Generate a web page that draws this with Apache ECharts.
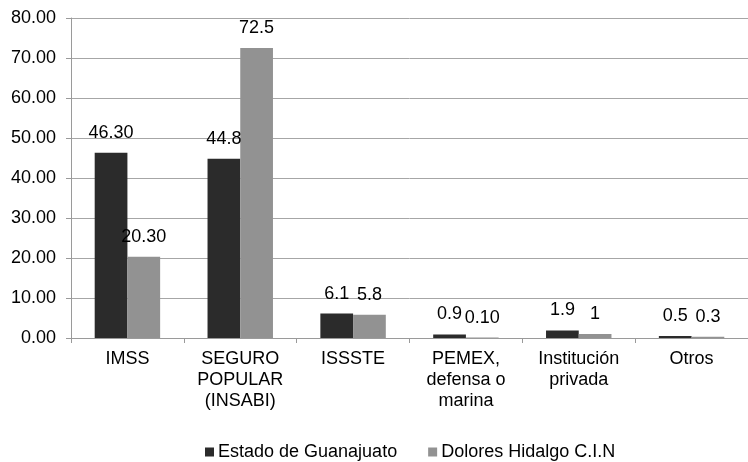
<!DOCTYPE html>
<html>
<head>
<meta charset="utf-8">
<script src="https://cdn.jsdelivr.net/npm/echarts@6/dist/echarts.min.js"></script>
<style>html,body{margin:0;padding:0;background:#fff}#c{width:748px;height:462px}</style>
</head>
<body>
<div id="c"></div>
<script>
const categories = ['IMSS', 'SEGURO\nPOPULAR\n(INSABI)', 'ISSSTE', 'PEMEX,\ndefensa o\nmarina', 'Institución\nprivada', 'Otros'];
const seriesNames = ['Estado de Guanajuato', 'Dolores Hidalgo C.I.N'];
const guanajuato = [46.3, 44.8, 6.1, 0.9, 1.9, 0.5];
const dolores = [20.3, 72.5, 5.8, 0.1, 1, 0.3];
const guanajuatoLabels = ['46.30', '44.8', '6.1', '0.9', '1.9', '0.5'];
const doloresLabels = ['20.30', '72.5', '5.8', '0.10', '1', '0.3'];

const FONT = 'Liberation Sans, Arial, sans-serif';
const FS = 18;
const chart = echarts.init(document.getElementById('c'), null, {renderer: 'canvas'});
function mkLabel(arr) {
  return {
    show: true, position: 'top', distance: 11,
    fontFamily: FONT, fontSize: FS, color: '#000',
    formatter: p => arr[p.dataIndex]
  };
}
chart.setOption({
  animation: false,
  backgroundColor: '#fff',
  grid: {left: 71, top: 18, bottom: 124, width: 686},
  legend: {
    top: 438, left: 200,
    itemWidth: 9, itemHeight: 9, itemGap: 31,
    icon: 'rect',
    textStyle: {fontFamily: FONT, fontSize: FS, color: '#000', padding: [0,0,0,-1]},
    data: seriesNames
  },
  xAxis: {
    type: 'category', data: categories,
    axisLine: {lineStyle: {color: '#9a9a9a', width: 1}},
    axisTick: {show: true, length: 5, lineStyle: {color: '#9a9a9a'}},
    axisLabel: {fontFamily: FONT, fontSize: FS, color: '#000', margin: 11, lineHeight: 21, interval: 0}
  },
  yAxis: {
    type: 'value', min: 0, max: 80, interval: 10,
    axisLine: {show: true, lineStyle: {color: '#9a9a9a', width: 1}},
    axisTick: {show: true, length: 5, lineStyle: {color: '#9a9a9a'}},
    splitLine: {lineStyle: {color: '#a6a6a6', width: 1}},
    axisLabel: {fontFamily: FONT, fontSize: FS, color: '#000', margin: 15, formatter: v => v.toFixed(2)}
  },
  series: [
    {name: seriesNames[0], type: 'bar', data: guanajuato, barGap: '0%', barCategoryGap: '42%',
     itemStyle: {color: '#2b2b2b'}, label: mkLabel(guanajuatoLabels)},
    {name: seriesNames[1], type: 'bar', data: dolores, barGap: '0%', barCategoryGap: '42%',
     itemStyle: {color: '#929292'}, label: mkLabel(doloresLabels)}
  ]
});
</script>
</body>
</html>
